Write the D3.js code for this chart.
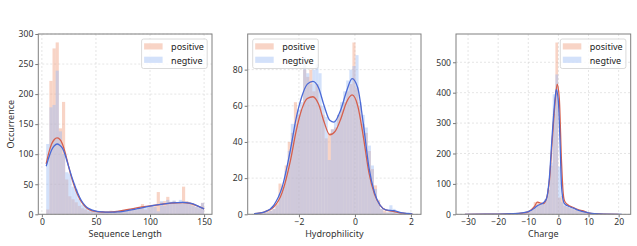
<!DOCTYPE html>
<meta charset="utf-8">
<style>
    body { margin: 0; background: #fff; }
    text { font-family: "Noto Sans", sans-serif; fill: #333; }
    .grid line { stroke: #d4d4d4; stroke-dasharray: 2,2; stroke-width: 0.6; }
    .axis path { display: none; }
    .axis line { stroke: #555; stroke-width: 0.8; }
    .axis text { font-size: 8.6px; }
    .frame { fill: none; stroke: #808080; stroke-width: 1; }
    .kde { fill: none; stroke-width: 1.3; }
</style>

<svg width="637" height="246"></svg>

<script src="https://d3js.org/d3.v7.min.js"></script>
<script>

    // DATA

    var seriesNames = ["positive", "negtive"];

    // sequence length, 50 bins between 4 and 150
    var lenRange = [4, 150];
    var lenPos = [8, 222, 276, 286, 143, 187, 58, 30, 25, 20,
        14, 10, 8, 5, 5, 4, 4, 5, 3, 4,
        6, 4, 5, 6, 7, 5, 9, 8, 7, 10,
        17, 8, 12, 14, 15, 37, 20, 22, 29, 20,
        22, 18, 20, 46, 22, 20, 18, 12, 10, 19];
    var lenNeg = [117, 178, 182, 239, 138, 100, 70, 68, 46, 42,
        26, 16, 13, 8, 6, 4, 4, 3, 4, 5,
        4, 5, 6, 5, 6, 8, 8, 10, 9, 12,
        11, 14, 13, 16, 12, 5, 22, 14, 24, 21,
        23, 20, 24, 22, 21, 18, 14, 13, 12, 19];
    var lenPosKde = [[4, 84], [6.5, 103], [9, 117], [11.5, 124.5], [14, 127], [16.5, 125], [19, 117], [21.5, 103],
        [24, 85], [27, 64], [30, 47], [33, 33], [36.5, 21], [40, 13], [43, 8.5], [46, 6], [51, 4.5], [56, 3.8],
        [60, 3.6], [65, 4], [70, 5], [80, 8], [90, 11.5], [100, 14], [110, 16.5], [120, 18.5], [130, 19.5],
        [137, 18], [143, 14.5], [150, 9]];
    var lenNegKde = [[4, 80], [6.5, 95], [9, 107], [11.5, 114], [14, 117], [16.5, 115], [19, 110], [21.5, 99],
        [24, 84], [27, 66], [30, 50], [33, 36], [36.5, 23], [40, 14.5], [43, 10], [46, 7.5], [51, 5], [56, 4],
        [60, 3.6], [65, 3.6], [70, 4], [80, 6.5], [90, 10], [100, 13.5], [110, 16.5], [120, 19], [130, 20],
        [137, 18.5], [143, 15], [150, 9]];

    // hydrophilicity, 50 bins between -3.5 and 2.0
    var hydRange = [-3.5, 2.0];
    var hydPos = [0, 1, 1, 2, 2, 3, 6, 17, 16, 27,
        40, 45, 62, 55, 58, 80, 76, 80, 68, 72,
        60, 55, 42, 45, 47, 48, 55, 58, 62, 68,
        72, 95, 70, 60, 50, 45, 35, 25, 16, 8,
        3, 2, 1, 1, 1, 0, 1, 0, 0, 0];
    var hydNeg = [1, 1, 1, 1, 2, 3, 5, 11, 15, 24,
        35, 50, 50, 58, 62, 87, 78, 72, 80, 83,
        78, 60, 54, 30, 47, 52, 55, 62, 68, 74,
        80, 82, 88, 62, 55, 48, 38, 27, 14, 7,
        3, 1, 1, 5, 3, 1, 1, 0, 0, 1];
    var hydPosKde = [[-3.6, 0.3], [-3.2, 1.5], [-2.9, 4], [-2.6, 12], [-2.3, 30], [-2.1, 46], [-1.9, 58],
        [-1.7, 64], [-1.5, 65], [-1.3, 61], [-1.1, 51], [-0.9, 44], [-0.7, 46], [-0.5, 53], [-0.3, 62],
        [-0.1, 66], [0.1, 60], [0.3, 43], [0.5, 23], [0.7, 11], [0.9, 5], [1.1, 2.5], [1.4, 1.5],
        [1.7, 0.6], [2.05, 0.2]];
    var hydNegKde = [[-3.6, 0.3], [-3.2, 1.5], [-2.9, 5], [-2.6, 15], [-2.3, 36], [-2.1, 53], [-1.9, 65],
        [-1.7, 72], [-1.5, 73.5], [-1.3, 70], [-1.1, 60], [-0.9, 52], [-0.75, 51], [-0.5, 58], [-0.3, 68],
        [-0.1, 75], [0.1, 70], [0.3, 50], [0.5, 26], [0.7, 12], [0.9, 5], [1.1, 2.5], [1.4, 2],
        [1.7, 0.8], [2.05, 0.2]];

    // charge, 60 bins between -32.5 and 21.5
    var chgRange = [-32.5, 21.5];
    var chgPos = [1, 0, 0, 0, 0, 0, 0, 0, 0, 0,
        0, 0, 0, 0, 0, 1, 1, 2, 2, 3,
        4, 4, 5, 7, 8, 10, 18, 40, 42, 35,
        36, 48, 80, 160, 330, 565, 55, 60, 28, 24,
        20, 17, 15, 12, 12, 10, 6, 4, 3, 2,
        1, 1, 1, 0, 0, 0, 0, 0, 0, 0];
    var chgNeg = [0, 0, 0, 0, 0, 0, 0, 0, 0, 0,
        0, 0, 0, 0, 0, 1, 1, 1, 2, 3,
        3, 4, 5, 6, 7, 9, 14, 25, 30, 33,
        36, 50, 85, 170, 395, 460, 157, 40, 30, 25,
        22, 18, 13, 10, 8, 6, 5, 3, 2, 1,
        1, 0, 0, 0, 0, 0, 0, 0, 1, 0];
    var chgPosKde = [[-31, 0], [-20, 0.5], [-15, 2], [-12, 4], [-10, 8], [-8, 25], [-7, 40], [-6, 37],
        [-5, 35], [-4, 50], [-3, 110], [-2, 250], [-1, 380], [-0.4, 428], [0.3, 380], [1, 180],
        [1.5, 80], [2, 45], [3, 32], [5, 22], [7, 14], [8, 12], [9, 8], [10, 4], [12, 2], [15, 0.5], [20, 0]];
    var chgNegKde = [[-31, 0], [-20, 0.5], [-15, 2], [-12, 5], [-10, 9], [-8, 20], [-7, 28], [-6, 33],
        [-5, 38], [-4, 50], [-3, 120], [-2, 270], [-1, 390], [-0.7, 410], [0, 370], [0.5, 250], [1, 100],
        [1.5, 50], [2, 35], [3, 28], [5, 20], [7, 12], [9, 7], [10, 5], [12, 2], [15, 0.5], [21, 0]];

    // SETUP

    var svg = d3.select("svg"),
        top_ = 34,
        bottom = 214.3,
        histFill = ["rgba(240,160,128,0.45)", "rgba(157,188,245,0.45)"],
        lineColor = ["#d65f4c", "#4a69d6"];

    var panels = [
        { left: 38.3, width: 173.7, xDomain: [-3.3, 157.3], yDomain: [0, 300],
          xTicks: [0, 50, 100, 150], yTicks: [0, 50, 100, 150, 200, 250, 300],
          range: lenRange, pos: lenPos, neg: lenNeg, posKde: lenPosKde, negKde: lenNegKde,
          xLabel: "Sequence Length", yLabel: "Occurrence", legend: "right" },
        { left: 247.7, width: 173.3, xDomain: [-3.83, 2.36], yDomain: [0, 99.7],
          xTicks: [-2, 0, 2], yTicks: [0, 20, 40, 60, 80],
          range: hydRange, pos: hydPos, neg: hydNeg, posKde: hydPosKde, negKde: hydNegKde,
          xLabel: "Hydrophilicity", legend: "left" },
        { left: 456, width: 174.7, xDomain: [-34, 24], yDomain: [0, 593],
          xTicks: [-30, -20, -10, 0, 10, 20], yTicks: [0, 100, 200, 300, 400, 500],
          range: chgRange, pos: chgPos, neg: chgNeg, posKde: chgPosKde, negKde: chgNegKde,
          xLabel: "Charge", legend: "right" }
    ];

    // DRAWING

    function drawPanel(p, idx) {
        var h = bottom - top_;
        var x = d3.scaleLinear().domain(p.xDomain).range([0, p.width]),
            y = d3.scaleLinear().domain(p.yDomain).range([h, 0]);

        var g = svg.append("g")
            .attr("transform", "translate(" + p.left + "," + top_ + ")");

        g.append("clipPath").attr("id", "clip" + idx)
            .append("rect").attr("width", p.width).attr("height", h);

        // grid
        var grid = g.append("g").attr("class", "grid");
        grid.selectAll(".gx").data(p.xTicks).enter().append("line")
            .attr("x1", x).attr("x2", x).attr("y1", 0).attr("y2", h);
        grid.selectAll(".gy").data(p.yTicks).enter().append("line")
            .attr("x1", 0).attr("x2", p.width).attr("y1", y).attr("y2", y);

        var plot = g.append("g").attr("clip-path", "url(#clip" + idx + ")");

        // histograms
        var n = p.pos.length,
            bw = (p.range[1] - p.range[0]) / n;
        [p.pos, p.neg].forEach(function (counts, s) {
            plot.append("g").selectAll("rect")
                .data(counts.map(function (c, i) { return { x0: p.range[0] + i * bw, c: c }; })
                    .filter(function (d) { return d.c > 0; }))
                .enter().append("rect")
                .attr("x", function (d) { return x(d.x0); })
                .attr("width", function (d) { return x(d.x0 + bw) - x(d.x0); })
                .attr("y", function (d) { return y(d.c); })
                .attr("height", function (d) { return y(0) - y(d.c); })
                .attr("fill", histFill[s]);
        });

        // kde lines
        var line = d3.line()
            .x(function (d) { return x(d[0]); })
            .y(function (d) { return y(d[1]); })
            .curve(d3.curveMonotoneX);
        [p.posKde, p.negKde].forEach(function (pts, s) {
            plot.append("path").attr("class", "kde")
                .attr("d", line(pts))
                .attr("stroke", lineColor[s]);
        });

        // axes
        g.append("g").attr("class", "axis")
            .attr("transform", "translate(0," + h + ")")
            .call(d3.axisBottom(x).tickValues(p.xTicks).tickSize(3).tickPadding(2).tickFormat(d3.format("d")));
        g.append("g").attr("class", "axis")
            .call(d3.axisLeft(y).tickValues(p.yTicks).tickSize(3).tickPadding(2).tickFormat(d3.format("d")));

        g.append("rect").attr("class", "frame")
            .attr("width", p.width).attr("height", h);

        g.append("text")
            .attr("x", p.width / 2).attr("y", h + 23)
            .attr("text-anchor", "middle")
            .style("font-size", "9px")
            .text(p.xLabel);

        if (p.yLabel) {
            g.append("text")
                .attr("transform", "translate(" + (-24.5) + "," + (h / 2) + ") rotate(-90)")
                .attr("text-anchor", "middle")
                .style("font-size", "9px")
                .text(p.yLabel);
        }

        // legend
        var lw = 65.6, lh = 29.5;
        var lx = p.legend === "right" ? p.width - lw - 4.8 : 5;
        var lg = g.append("g").attr("transform", "translate(" + lx + ",5)");
        lg.append("rect")
            .attr("width", lw).attr("height", lh).attr("rx", 2)
            .attr("fill", "rgba(255,255,255,0.8)")
            .attr("stroke", "#d0d0d0").attr("stroke-width", 0.8);
        seriesNames.forEach(function (name, s) {
            lg.append("rect")
                .attr("x", 2.5).attr("y", 4.3 + s * 13.4)
                .attr("width", 18.5).attr("height", 6.2)
                .attr("fill", histFill[s]);
            lg.append("text")
                .attr("x", 29.5).attr("y", 11.3 + s * 13.4)
                .style("font-size", "9px")
                .style("fill", "#222")
                .text(name);
        });
    }

    panels.forEach(drawPanel);

</script>
